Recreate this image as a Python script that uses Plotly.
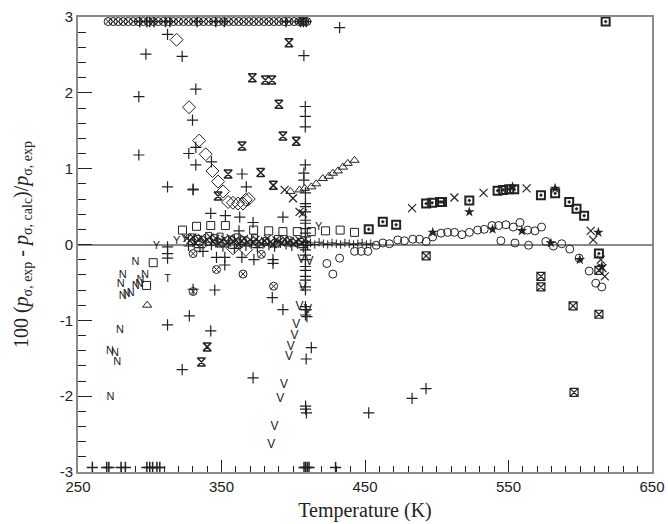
import plotly.graph_objects as go

# ---------------- data (Temperature in K, deviation in %) ----------------
plus_x = [312.4, 297.3, 322.6, 332.1, 292.4, 329.8, 332.1, 327.2, 292.4, 332.1, 343.0, 364.3,
          432.3, 407.4, 408.4, 408.4, 408.4, 408.4, 367.3, 330.2, 407.4, 407.4,
          312.4, 330.2, 342.5, 352.7, 362.7, 362.2, 372.0, 312.4, 312.4, 312.4, 337.1, 346.5,
          352.3, 352.3, 364.2, 372.6, 312.4, 342.5, 330.2, 345.3, 327.6, 392.8,
          385.9, 385.9, 385.4, 392.8, 412.6, 409.0, 409.5,
          372.0, 409.0, 408.6, 408.6, 409.2, 452.6, 482.8, 492.5, 322.6]
plus_y = [2.77, 2.51, 2.48, 2.05, 1.95, 1.64, 1.28, 1.20, 1.18, 1.05, 1.09, 0.93,
          2.86, 2.49, 1.82, 1.69, 1.55, 1.05, 0.76, 0.72, 0.94, 0.85,
          0.76, 0.73, 0.41, 0.38, 0.36, 0.18, 0.29, -0.03, -0.12, -0.18, -0.09, -0.17,
          -0.17, -0.27, -0.17, -0.20, -1.06, -1.14, -0.59, -0.60, -0.94, 0.36,
          -0.20, -0.25, -0.70, -0.86, -1.36, -0.86, -0.95,
          -1.76, -1.51, -2.13, -2.17, -2.22, -2.22, -2.03, -1.90, -1.65]

col_x = [408.5, 408.5, 408.5, 408.5, 408.5, 408.5, 408.5, 408.5, 408.5, 408.5, 408.5, 408.5,
         408.5, 408.5, 408.5, 408.5, 408.5, 408.5, 408.5, 408.5, 408.5, 408.5, 408.5]
col_y = [0.68, 0.54, 0.50, 0.43, 0.32, 0.28, 0.21, 0.15, 0.10, 0.04, -0.01, -0.07,
         -0.14, -0.20, -0.29, -0.34, -0.42, -0.47, -0.56, -0.60, -0.82, -0.86, -0.93]

top_circ_x = [271, 274.5, 278, 281.5, 285, 288.5, 292, 295.5, 299, 302.5, 306, 309.5, 313,
              316.5, 320, 323.5, 327, 330.5, 334, 337.5, 341, 344.5, 348, 351.5, 355, 358.5,
              362, 365.5, 369, 372.5, 376, 379.5, 383, 386.5, 390, 393.5, 397, 400.5, 404,
              406, 408, 409.5]
top_circ_y = [2.94] * len(top_circ_x)
top_plus_x = [293, 298, 300, 303, 311, 314, 333, 346, 352, 395, 405, 407, 409]
top_plus_y = [2.94] * len(top_plus_x)

bot_plus_x = [260, 270, 271.5, 280, 283, 298, 300, 302, 305, 307, 407.5, 408.6, 409.8, 411, 429.5]
bot_plus_y = [-2.94] * len(bot_plus_x)

diam_x = [318.7, 327.4, 334.4, 339.0, 343.7, 347.6, 351.1, 354.6, 358.0, 361.5, 365.0, 366.9, 369.0, 358.0, 367.0]
diam_y = [2.70, 1.81, 1.37, 1.19, 0.97, 0.83, 0.70, 0.56, 0.55, 0.54, 0.54, 0.59, 0.60, -0.05, -0.07]

hour_x = [371.5, 380.5, 385.1, 397.0, 390.0, 392.8, 402.1, 364.3, 354.6, 377.3, 386.1, 347.6, 340.0, 336.0]
hour_y = [2.20, 2.17, 2.17, 2.66, 1.85, 1.43, 1.36, 1.30, 0.93, 0.95, 0.78, 0.64, -1.35, -1.55]

xmk_x = [512.3, 532.6, 562.6, 607.3, 609.0, 614.3, 615.4, 617.1, 482.8, 394.0, 399.8, 404.4, 406.7]
xmk_y = [0.62, 0.68, 0.74, 0.18, 0.06, -0.20, -0.31, -0.42, 0.48, 0.72, 0.61, 0.43, 0.41]

sqdot_x = [503.7, 522.7, 542.4, 546.3, 550.5, 554.0, 572.6, 582.5, 592.3, 597.4, 602.7,
           462.4, 471.7, 452.6, 492.6, 496.8, 502.3, 617.7, 613.0]
sqdot_y = [0.56, 0.58, 0.71, 0.72, 0.73, 0.73, 0.65, 0.675, 0.56, 0.47, 0.38,
           0.30, 0.26, 0.20, 0.54, 0.55, 0.56, 2.94, -0.12]

sqx_x = [572.6, 572.6, 595.0, 613.0, 613.0, 595.7, 492.6]
sqx_y = [-0.42, -0.56, -0.81, -0.92, -0.34, -1.95, -0.15]

circ_x = [423.4, 427.6, 432.3, 442.7, 447.4, 452.0, 457.8, 462.4, 467.0, 472.8, 477.5, 483.3,
          488.0, 492.6, 497.2, 503.0, 507.6, 512.3, 517.6, 522.7, 528.5, 533.1, 538.5, 543.1,
          548.2, 553.3, 558.0, 563.3, 568.4, 573.0, 544.7, 554.5, 564.0, 576.0, 581.3, 587.1,
          592.7, 599.2, 606.2, 610.8, 615.0]
circ_y = [-0.25, -0.39, -0.18, -0.09, -0.09, -0.09, -0.01, 0.02, 0.01, 0.06, 0.05, 0.07,
          0.07, 0.04, 0.10, 0.15, 0.16, 0.16, 0.13, 0.16, 0.19, 0.20, 0.25, 0.25,
          0.26, 0.23, 0.29, 0.19, 0.18, 0.23, 0.05, 0.02, -0.01, 0.04, -0.02, 0.01,
          -0.06, -0.18, -0.35, -0.51, -0.56]

slash_x = [330.2, 346.5, 365.0, 330.2, 386.3, 377.8]
slash_y = [-0.12, -0.33, -0.39, -0.62, -0.55, -0.13]

sq_x = [322.8, 332.6, 342.5, 352.7, 372.4, 302.4, 297.8, 382.9, 392.8, 402.8, 412.6, 422.5, 432.7, 442.7]
sq_y = [0.19, 0.24, 0.25, 0.25, 0.19, -0.24, -0.54, 0.18, 0.17, 0.17, 0.17, 0.18, 0.19, 0.16]

tri_x = [442.7, 438.0, 434.6, 431.1, 427.6, 424.8, 420.6, 416.0, 412.6, 408.0, 404.4, 398.0, 298.2]
tri_y = [1.11, 1.07, 1.02, 0.97, 0.94, 0.90, 0.87, 0.80, 0.76, 0.74, 0.72, 0.70, -0.80]

n_x = [290.0, 281.1, 296.6, 279.7, 293.6, 281.1, 283.9, 286.7, 290.3, 292.6, 279.2, 272.3, 275.7, 277.3, 272.7]
n_y = [-0.23, -0.40, -0.41, -0.53, -0.47, -0.68, -0.65, -0.64, -0.55, -0.53, -1.13, -1.41, -1.43, -1.55, -2.02]

y_x = [304.7, 318.7, 324.4, 417.8]
y_y = [-0.02, 0.04, 0.07, 0.23]

v_x = [405.6, 411.4, 406.7, 404.4, 410.2, 402.1, 400.9, 398.2, 397.0, 393.5, 391.0, 387.0, 384.7]
v_y = [-0.20, -0.23, -0.58, -0.82, -0.86, -1.06, -1.21, -1.35, -1.49, -1.85, -2.04, -2.41, -2.64]

star_x = [522.7, 538.9, 559.3, 579.5, 582.5, 552.8, 612.6, 599.7, 615.0, 497.2]
star_y = [0.43, 0.20, 0.18, 0.02, 0.74, 0.76, 0.16, -0.20, -0.29, 0.16]

t_x = [312.4]
t_y = [-0.46]

band1_x = [326, 328, 330, 332, 334, 336, 338, 340, 342, 344, 346, 348, 350, 352, 354, 356, 358,
           360, 362, 364, 366, 368, 370, 372, 374, 376, 378, 380, 382, 384, 386, 388, 390, 392,
           394, 396, 398, 400, 402, 404, 406]
band1_y = [0.08, 0.05, 0.10, 0.02, 0.07, 0.09, 0.03, 0.06, 0.10, 0.04, 0.08, 0.01, 0.05, 0.07,
           0.02, 0.09, 0.04, 0.06, 0.00, 0.05, 0.08, 0.03, 0.06, 0.02, 0.07, 0.04, 0.01, 0.05,
           0.08, 0.03, 0.00, 0.06, 0.04, 0.02, 0.07, 0.03, 0.05, 0.01, 0.04, 0.06, 0.02]
band2_x = [327, 331, 335, 339, 343, 347, 351, 355, 359, 363, 367, 371, 375, 379, 383, 387, 391,
           395, 399, 403, 407, 409, 410]
band2_y = [-0.02, 0.00, -0.04, 0.03, -0.01, 0.02, -0.03, 0.01, -0.05, 0.00, -0.02, 0.02, -0.04,
           0.01, -0.01, -0.03, 0.02, 0.00, -0.02, 0.01, -0.04, 0.03, -0.01]
band3_x = [329, 333, 341, 345, 349, 357, 361, 365, 373, 381, 389, 397, 405]
band3_y = [0.10, 0.08, 0.12, 0.09, 0.11, 0.07, 0.10, 0.06, 0.09, 0.05, 0.08, 0.06, 0.04]
band4_x = [412, 415, 418, 421, 424, 427, 430, 433, 436, 439, 442, 445, 448, 451, 454]
band4_y = [0.02, 0.00, 0.03, 0.01, 0.00, 0.02, 0.01, 0.00, 0.02, 0.01, 0.00, 0.01, 0.02, 0.00, 0.01]

x_ticks = [250, 350, 450, 550, 650]
y_ticks = [-3, -2, -1, 0, 1, 2, 3]

# ---------------- figure ----------------
INK = "#222222"
fig = go.Figure()


def mk(x, y, symbol, size=8, width=1):
    fig.add_trace(go.Scatter(x=x, y=y, mode="markers", showlegend=False, hoverinfo="skip",
                             marker=dict(symbol=symbol, size=size, color=INK,
                                         line=dict(color=INK, width=width))))


def tx(x, y, label, size=11):
    fig.add_trace(go.Scatter(x=x, y=y, mode="text", text=[label] * len(x), showlegend=False,
                             hoverinfo="skip",
                             textfont=dict(family="Liberation Sans, Arial", size=size, color=INK)))


mk(top_circ_x, top_circ_y, "circle-x-open", 8)
mk(top_plus_x, top_plus_y, "cross-thin-open", 8, 1.5)
mk(bot_plus_x, bot_plus_y, "cross-thin-open", 8, 1.5)
mk(plus_x, plus_y, "cross-thin-open", 8, 1.2)
mk(col_x, col_y, "cross-thin-open", 8, 1.2)
mk(band1_x, band1_y, "x-thin-open", 7, 1.2)
mk(band2_x, band2_y, "cross-thin-open", 7, 1.2)
mk(band3_x, band3_y, "square-open", 6, 1)
mk(band4_x, band4_y, "cross-thin-open", 6, 1)
mk(diam_x, diam_y, "diamond-open", 10)
mk(hour_x, hour_y, "hourglass-open", 8, 1.5)
mk(xmk_x, xmk_y, "x-thin-open", 8, 1.2)
mk(sqdot_x, sqdot_y, "square-open-dot", 8, 2)
mk(sqx_x, sqx_y, "square-x-open", 8, 1.2)
mk(circ_x, circ_y, "circle-open", 8)
mk(slash_x, slash_y, "circle-x-open", 8)
mk(sq_x, sq_y, "square-open", 8)
mk(tri_x, tri_y, "triangle-up-open", 8)
mk(star_x, star_y, "star", 8, 0)
tx(n_x, n_y, "N", 11)
tx(y_x, y_y, "Y", 11)
tx(v_x, v_y, "V", 12)
tx(t_x, t_y, "T", 11)

axis_common = dict(showline=True, linecolor="#8a8a8a", linewidth=2, mirror=True,
                   showgrid=False, ticks="inside", tickcolor=INK, tickwidth=1,
                   tickfont=dict(family="Liberation Sans, Arial", size=15, color=INK))

fig.update_xaxes(range=[250, 650], tickmode="array", tickvals=x_ticks,
                 ticktext=[str(v) for v in x_ticks], ticklen=12, zeroline=False,
                 minor=dict(dtick=10, tick0=250, ticklen=6, ticks="inside", tickcolor=INK),
                 title=dict(text="Temperature (K)", standoff=9,
                            font=dict(family="Liberation Serif, Times New Roman", size=20, color=INK)),
                 **axis_common)
fig.update_yaxes(range=[-3, 3], tickmode="array", tickvals=y_ticks,
                 ticktext=[str(v) for v in y_ticks], ticklen=14,
                 zeroline=True, zerolinecolor="#8a8a8a", zerolinewidth=2,
                 minor=dict(dtick=0.2, tick0=-3, ticklen=8, ticks="inside", tickcolor=INK),
                 title=dict(text="100 (<i>p</i><sub>σ, exp</sub> - <i>p</i><sub>σ, calc</sub>)/<i>p</i><sub>σ, exp</sub>",
                            standoff=26,
                            font=dict(family="Liberation Serif, Times New Roman", size=20, color=INK)),
                 **axis_common)

fig.update_layout(width=668, height=524, margin=dict(l=78, r=16, t=17, b=52),
                  plot_bgcolor="white", paper_bgcolor="white")
fig.update_xaxes(automargin=False)
fig.update_yaxes(automargin=False)

fig.write_html("out.html")
